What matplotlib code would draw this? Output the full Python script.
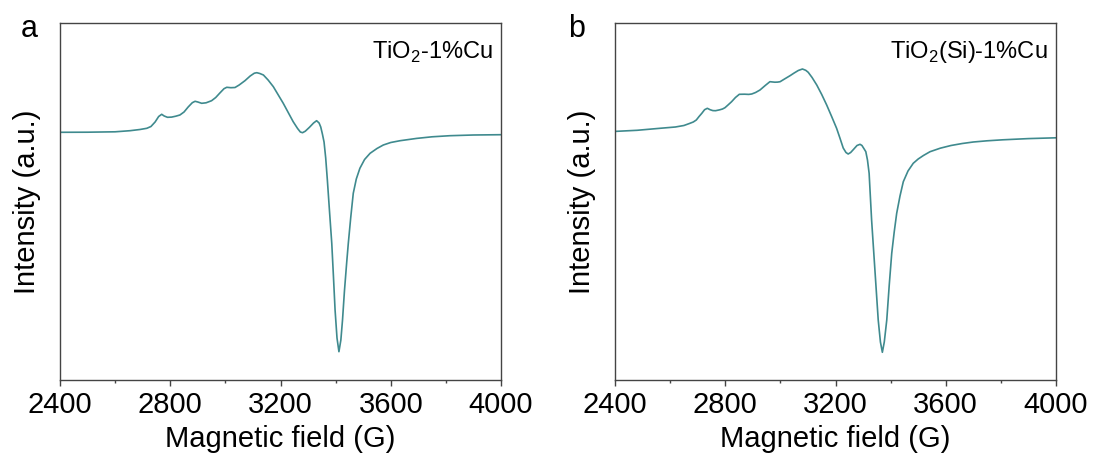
import matplotlib
matplotlib.use("Agg")
import matplotlib.pyplot as plt
from matplotlib.ticker import MultipleLocator

plt.rcParams['font.family'] = ['Liberation Sans', 'DejaVu Sans']
plt.rcParams['mathtext.fontset'] = 'custom'
plt.rcParams['mathtext.rm'] = 'Liberation Sans'

# ---- data (Magnetic field in G, Intensity in a.u.) ----
field_a = [2400, 2500, 2600, 2654, 2690, 2715, 2730, 2745, 2758, 2769, 2778, 2790, 2805, 2820, 2835,
           2850, 2865, 2880, 2890, 2900, 2914, 2930, 2950, 2965, 2980, 2995, 3005, 3020, 3035, 3050,
           3071, 3090, 3105, 3114, 3125, 3138, 3155, 3174, 3192, 3210, 3228, 3246, 3262, 3272, 3280,
           3290, 3305, 3320, 3331, 3340, 3346, 3352, 3358, 3364, 3370, 3378, 3386, 3392, 3398, 3405,
           3412, 3419, 3425, 3432, 3440, 3446, 3455, 3464, 3475, 3488, 3505, 3525, 3550, 3573, 3600,
           3634, 3694, 3750, 3815, 3900, 4000]
intensity_a = [247.7, 247.8, 248.2, 249.3, 250.5, 251.7, 253.5, 258, 263.5, 265.7, 264, 262.7, 262.9, 263.8, 265,
               268, 273, 277.3, 278.7, 278, 276.7, 277.2, 279.3, 282.5, 287, 291.3, 292.7, 292.3, 292.5, 295,
               299.3, 304, 306.8, 307.3, 306.5, 305, 300, 293.3, 285, 276.7, 267.5, 258.3, 251.5, 248, 247.3,
               248.8, 252.7, 257, 259.3, 257, 253, 246, 238, 222, 200, 168, 136.7, 104, 70, 42,
               28.3, 40, 60, 89, 117, 136.7, 163, 186.7, 201, 211.7, 220.5, 226.7, 231.5, 235, 237.5,
               239.3, 241.6, 243.2, 244.3, 245, 245.3]

field_b = [2400, 2480, 2563, 2619, 2650, 2670, 2684, 2695, 2705, 2715, 2725, 2735, 2745, 2755, 2765,
           2780, 2790, 2799, 2810, 2823, 2837, 2851, 2870, 2885, 2896, 2910, 2926, 2945, 2962, 2980,
           2990, 2999, 3015, 3035, 3050, 3065, 3080, 3092, 3101, 3115, 3132, 3150, 3168, 3186, 3204,
           3216, 3228, 3238, 3246, 3255, 3265, 3278, 3289, 3296, 3304, 3310, 3316, 3322, 3331, 3343,
           3355, 3363, 3370, 3377, 3386, 3395, 3404, 3413, 3422, 3434, 3446, 3463, 3482, 3500, 3519,
           3543, 3580, 3619, 3660, 3700, 3750, 3807, 3900, 4000]
intensity_b = [248.6, 249.7, 251.7, 253, 254.5, 256.5, 258, 260, 263.5, 266.7, 270.3, 271.7, 270.3, 269.4, 269.3,
               270.2, 271, 272.3, 275, 278.3, 282.5, 285.7, 285.8, 285.6, 286, 287.5, 290, 294.5, 298.3, 297.8,
               297.9, 298.3, 301, 304.3, 307, 309.5, 311, 309.7, 307.7, 302.5, 295, 285.5, 275, 263.5, 251.7,
               242, 232, 227.5, 226, 227.5, 230.5, 234.5, 235.7, 234.5, 231, 228.3, 220, 206.7, 160, 110,
               60, 38, 27.7, 38, 60, 95, 126.7, 148, 166.7, 184, 198.3, 209, 216.7, 221, 224.5,
               228.3, 231.8, 234.5, 236.5, 238, 239.2, 240.2, 241.4, 242.2]

x_ticks = [2400, 2800, 3200, 3600, 4000]
sample_labels = [r'TiO$_\mathregular{2}$-1%Cu', r'TiO$_\mathregular{2}$(Si)-1%Cu']
panel_labels = ['a', 'b']

LINE_COLOR = '#3f8a8e'
SPINE_COLOR = '#444444'

W, H = 1095, 457
fig = plt.figure(figsize=(W / 100, H / 100), dpi=100)

ax_a = fig.add_axes([60 / W, 1 - 380 / H, 441 / W, 357 / H])
ax_b = fig.add_axes([615 / W, 1 - 380 / H, 441 / W, 357 / H])

for ax, fx, fy, lab in [(ax_a, field_a, intensity_a, sample_labels[0]),
                        (ax_b, field_b, intensity_b, sample_labels[1])]:
    ax.plot(fx, fy, color=LINE_COLOR, lw=1.2, solid_joinstyle='round', solid_capstyle='round')
    ax.set_xlim(2400, 4000)
    ax.set_ylim(0, 357)
    ax.set_xticks(x_ticks)
    ax.xaxis.set_minor_locator(MultipleLocator(200))
    ax.set_yticks([])
    ax.tick_params(axis='x', which='major', direction='out', length=4, width=1,
                   color=SPINE_COLOR, labelsize=21, pad=4)
    ax.tick_params(axis='x', which='minor', direction='out', length=2.5, width=1,
                   color=SPINE_COLOR)
    for s in ax.spines.values():
        s.set_color(SPINE_COLOR)
        s.set_linewidth(1.0)
    ax.set_xlabel('Magnetic field (G)', fontsize=21, labelpad=4)
    ax.set_ylabel('Intensity (a.u.)', fontsize=21, labelpad=14)
    ax.text(0.981, 0.901, lab, transform=ax.transAxes, ha='right', va='baseline', fontsize=17)

fig.text(29 / W, 1 - 37 / H, panel_labels[0], fontsize=22, ha='center', va='baseline')
fig.text(577 / W, 1 - 37 / H, panel_labels[1], fontsize=22, ha='center', va='baseline')

fig.savefig('out.png', dpi=100)
